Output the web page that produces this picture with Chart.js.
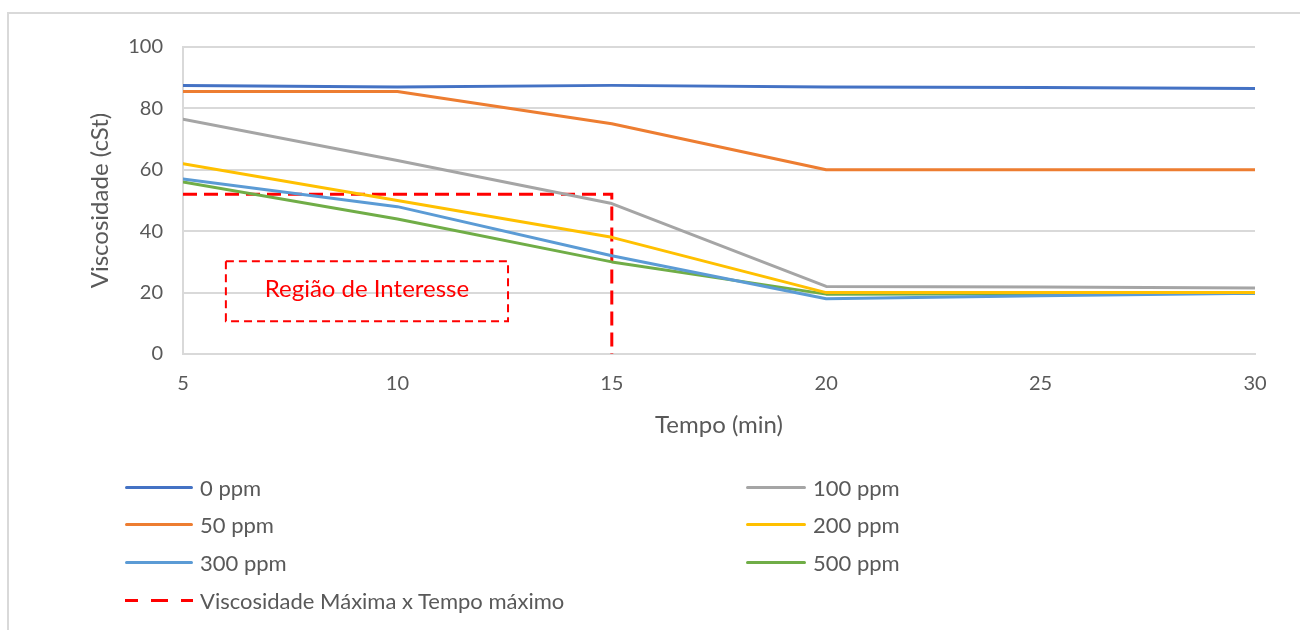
<!DOCTYPE html>
<html>
<head>
<meta charset="utf-8">
<script src="https://cdn.jsdelivr.net/npm/chart.js@4/dist/chart.umd.min.js"></script>
<style>
  html, body { margin: 0; padding: 0; background: #fff; }
  #wrap { position: relative; width: 1300px; height: 630px; overflow: hidden; }
  #frame { position: absolute; left: 7px; top: 12px; width: 1400px; height: 700px;
           border-top: 2px solid #d9d9d9; border-left: 2px solid #d9d9d9; }
  #chart { position: absolute; left: 0; top: 0; }
  .leg { position: absolute; font-family: Lato, sans-serif; font-size: 22px; color: #595959;
         display: flex; align-items: center; white-space: nowrap; }
  .leg .sw { width: 68px; height: 0; border-top: 3px solid; margin-right: 7px; border-radius: 2px; }
</style>
</head>
<body>
<div id="wrap">
  <div id="frame"></div>
  <canvas id="chart" width="1300" height="630"></canvas>
  <div id="legend"></div>
</div>
<script>
// Data
const times = [5, 10, 15, 20, 25, 30];
const ppm0   = [87.5, 87, 87.5, 87, 86.8, 86.5];
const ppm50  = [85.5, 85.5, 75, 60, 60, 60];
const ppm100 = [76.5, 63, 49, 22, 21.8, 21.5];
const ppm200 = [62, 50, 38, 20, 20, 20];
const ppm300 = [57, 48, 32, 18, 19, 19.8];
const ppm500 = [56, 44, 30, 19.5, 19.6, 19.8];
const limitX = [5, 15, 15];
const limitY = [52, 52, 0];
const yTicks = [0, 20, 40, 60, 80, 100];
const xTicks = [5, 10, 15, 20, 25, 30];
// region of interest box (x1, x2, y1, y2 in data units)
const regionBox = [6, 12.58, 30.2, 10.7];

const textColor = '#595959';
const fontFam = 'Lato, sans-serif';

function pts(xs, ys) {
    return xs.map((x, i) => ({ x: x, y: ys[i] }));
}

const series = [
    { label: '0 ppm', data: ppm0, color: '#4472C4' },
    { label: '50 ppm', data: ppm50, color: '#ED7D31' },
    { label: '100 ppm', data: ppm100, color: '#A5A5A5' },
    { label: '200 ppm', data: ppm200, color: '#FFC000' },
    { label: '300 ppm', data: ppm300, color: '#5B9BD5' },
    { label: '500 ppm', data: ppm500, color: '#70AD47' }
];

const datasets = series.map(s => ({
    label: s.label,
    data: pts(times, s.data),
    borderColor: s.color,
    backgroundColor: s.color,
    borderWidth: 3,
    pointRadius: 0,
    tension: 0,
    borderCapStyle: 'round',
    borderJoinStyle: 'round'
}));

datasets.push({
    label: 'Viscosidade Máxima x Tempo máximo',
    data: pts(limitX, limitY),
    borderColor: '#FF0000',
    backgroundColor: '#FF0000',
    borderWidth: 3,
    borderDash: [14, 7],
    pointRadius: 0,
    tension: 0
});

// draws the dashed "Região de Interesse" box
const regionPlugin = {
    id: 'region',
    afterDatasetsDraw(chart) {
        const { ctx, scales } = chart;
        const x1 = scales.x.getPixelForValue(regionBox[0]);
        const x2 = scales.x.getPixelForValue(regionBox[1]);
        const y1 = scales.y.getPixelForValue(regionBox[2]);
        const y2 = scales.y.getPixelForValue(regionBox[3]);
        ctx.save();
        ctx.strokeStyle = '#FF0000';
        ctx.lineWidth = 2;
        ctx.setLineDash([8, 5]);
        ctx.strokeRect(x1, y1, x2 - x1, y2 - y1);
        ctx.setLineDash([]);
        ctx.fillStyle = '#FF0000';
        ctx.font = '24px ' + fontFam;
        ctx.textAlign = 'center';
        ctx.textBaseline = 'middle';
        ctx.fillText('Região de Interesse', (x1 + x2) / 2, (y1 + y2) / 2 - 2);
        ctx.restore();
    }
};

new Chart(document.getElementById('chart'), {
    type: 'line',
    data: { datasets: datasets },
    plugins: [regionPlugin],
    options: {
        responsive: false,
        animation: false,
        layout: { padding: { left: 86, top: 47, right: 45, bottom: 186 } },
        plugins: { legend: { display: false }, tooltip: { enabled: false } },
        scales: {
            x: {
                type: 'linear',
                min: 5, max: 30,
                afterBuildTicks: s => { s.ticks = xTicks.map(v => ({ value: v })); },
                afterFit: s => { s.height = 90; },
                grid: { display: false, drawTicks: false },
                border: { color: '#d9d9d9', width: 2 },
                ticks: { color: textColor, font: { family: fontFam, size: 20 }, padding: 18, maxRotation: 0 },
                title: { display: true, text: 'Tempo (min)', color: textColor,
                         font: { family: fontFam, size: 24 }, padding: { top: 6 } }
            },
            y: {
                min: 0, max: 100,
                afterBuildTicks: s => { s.ticks = yTicks.map(v => ({ value: v })); },
                afterFit: s => { s.width = 97; },
                grid: { color: '#d9d9d9', lineWidth: 2, drawTicks: false },
                border: { color: '#d9d9d9', width: 2 },
                ticks: { color: textColor, font: { family: fontFam, size: 20 }, padding: 20 },
                title: { display: true, text: 'Viscosidade (cSt)', color: textColor,
                         font: { family: fontFam, size: 24 }, padding: 0 }
            }
        }
    }
});

// legend in two columns, row-major like the original
const legendSpots = [
    [125, 488], [746, 488],
    [125, 525], [746, 525],
    [125, 563], [746, 563],
    [125, 601]
];
const legendOrder = [0, 2, 1, 3, 4, 5, 6];
const legendEl = document.getElementById('legend');
legendOrder.forEach((di, i) => {
    const ds = datasets[di];
    const item = document.createElement('div');
    item.className = 'leg';
    item.style.left = legendSpots[i][0] + 'px';
    item.style.top = (legendSpots[i][1] - 14) + 'px';
    const sw = document.createElement('span');
    sw.className = 'sw';
    if (ds.borderDash) {
        sw.style.borderTop = '3px dashed ' + ds.borderColor;
        sw.style.borderImage = 'repeating-linear-gradient(90deg, ' + ds.borderColor + ' 0 15px, transparent 15px 27px) 3';
    } else {
        sw.style.borderTopColor = ds.borderColor;
    }
    if (legendSpots[i][0] > 500) sw.style.width = '60px';
    item.appendChild(sw);
    const t = document.createElement('span');
    t.textContent = ds.label;
    item.appendChild(t);
    legendEl.appendChild(item);
});
</script>
</body>
</html>
